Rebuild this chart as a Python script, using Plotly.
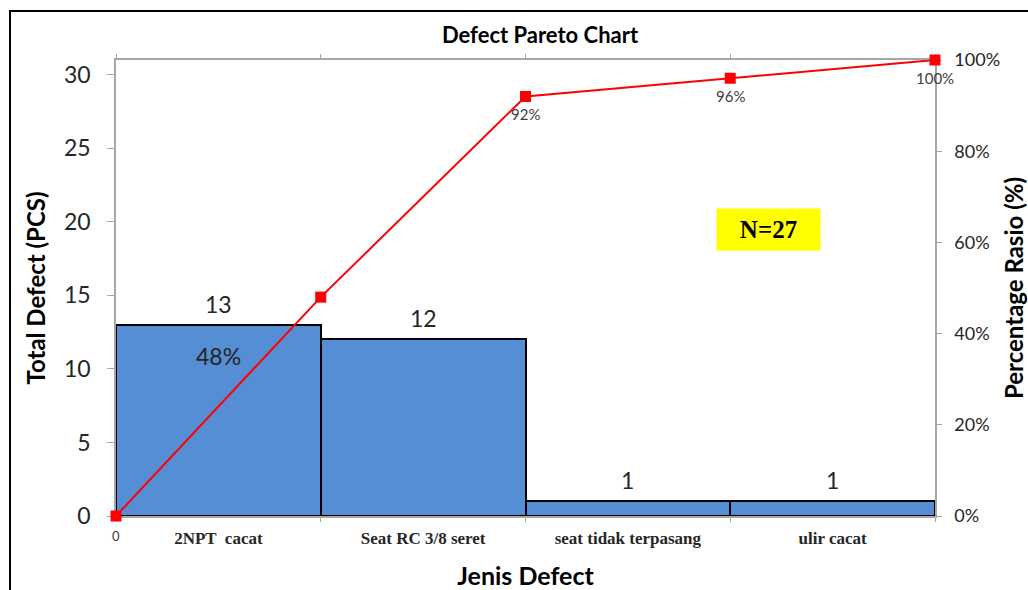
import plotly.graph_objects as go

categories = ["2NPT  cacat", "Seat RC 3/8 seret", "seat tidak terpasang", "ulir cacat"]
defects = [13, 12, 1, 1]
cum_pct = [0.0, 0.48, 0.92, 0.96, 1.00]
cum_labels = ["0", "", "92%", "96%", "100%"]
left_ticks = [0, 5, 10, 15, 20, 25, 30]
right_ticks = [0, 0.2, 0.4, 0.6, 0.8, 1.0]

n = len(categories)
bar_x = [i + 0.5 for i in range(n)]
line_x = list(range(n + 1))

SANS = "Lato, 'Open Sans', sans-serif"
SERIF = "'Liberation Serif', 'Times New Roman', serif"
GRAY = "#a6a6a6"

W, H = 1028, 590
L, T = 116, 60
PW, PH = 819, 456

fig = go.Figure()
fig.add_trace(go.Bar(
    x=bar_x, y=defects, width=1.0,
    marker=dict(color="#558ed5", line=dict(color="black", width=2)),
    xaxis="x", yaxis="y", showlegend=False,
))
fig.add_trace(go.Scatter(
    x=line_x, y=cum_pct, mode="lines+markers",
    line=dict(color="#ff0000", width=2),
    marker=dict(symbol="square", size=11, color="#ff0000"),
    xaxis="x2", yaxis="y2", showlegend=False, cliponaxis=False,
))

annotations = []
for xv, yv, lab in zip(line_x, cum_pct, cum_labels):
    if lab:
        annotations.append(dict(x=xv, y=yv, xref="x2", yref="y2", text=lab,
                                showarrow=False, yshift=-18 if lab != "0" else -20,
                                font=dict(family=SANS, size=15 if lab != "0" else 13,
                                          color="#404040")))
for xv, v in zip(bar_x, defects):
    annotations.append(dict(x=xv, y=v, xref="x", yref="y", text=str(v),
                            showarrow=False, yshift=21,
                            font=dict(family=SANS, size=23, color="#262626")))
annotations.append(dict(x=bar_x[0], y=defects[0], xref="x", yref="y",
                        text=f"{round(cum_pct[1]*100)}%", showarrow=False, yshift=-31,
                        font=dict(family=SANS, size=23, color="#262626")))
annotations.append(dict(x=(768 - L) / PW, y=(T + PH - 229) / PH, xref="paper", yref="paper",
                        xanchor="center", yanchor="middle",
                        text="<b>N=27</b>",
                        showarrow=False, bgcolor="#ffff00", width=101, height=39,
                        font=dict(family=SERIF, size=25, color="black")))

fig.update_layout(
    width=W, height=H,
    margin=dict(l=L, r=W - L - PW, t=T, b=H - T - PH, autoexpand=False),
    paper_bgcolor="white", plot_bgcolor="white",
    bargap=0,
    title=dict(text="<b>Defect Pareto Chart</b>", x=540 / W, xanchor="center",
               y=1 - 35 / H, yanchor="middle", automargin=False,
               font=dict(family=SANS, size=22, color="black")),
    xaxis=dict(range=[0, n], tickvals=bar_x, ticktext=categories,
               ticks="outside", ticklen=6, tickcolor="rgba(0,0,0,0)",
               tickfont=dict(family=SERIF, size=17, color="#262626", weight="bold"),
               showline=True, linecolor=GRAY, linewidth=1.5, mirror=True,
               showgrid=False, zeroline=False, automargin=False, layer="below traces",
               title=dict(text="<b>Jenis Defect</b>", standoff=25,
                          font=dict(family=SANS, size=25, color="black"))),
    xaxis2=dict(range=[0, n], overlaying="x", side="bottom", tickvals=line_x,
                ticks="outside", ticklen=5, tickcolor=GRAY, mirror="ticks",
                showticklabels=False, showgrid=False, zeroline=False, showline=False,
                automargin=False, layer="below traces"),
    yaxis=dict(range=[0, 31], tickvals=left_ticks, ticks="outside", ticklen=7,
               tickcolor=GRAY, showline=True, linecolor=GRAY, linewidth=1.5,
               tickfont=dict(family=SANS, size=23, color="#262626"),
               ticklabelstandoff=12,
               showgrid=False, zeroline=False, automargin=False, layer="below traces",
               title=dict(text="<b>Total Defect (PCS)</b>", standoff=12,
                          font=dict(family=SANS, size=24, color="black"))),
    yaxis2=dict(range=[0, 1], overlaying="y", side="right", tickvals=right_ticks,
                tickformat=".0%", ticks="outside", ticklen=5, tickcolor=GRAY,
                showline=True, linecolor=GRAY, linewidth=1.5,
                tickfont=dict(family=SANS, size=18, color="#262626"),
                ticklabelstandoff=9,
                showgrid=False, zeroline=False, automargin=False, layer="below traces",
                title=dict(text="<b>Percentage Rasio (%)</b>", standoff=11,
                           font=dict(family=SANS, size=24, color="black"))),
    annotations=annotations,
    shapes=[dict(type="rect", xref="paper", yref="paper",
                 x0=(10 - L) / PW, x1=1.3, y0=-0.4, y1=1 + (T - 11) / PH,
                 line=dict(color="black", width=2), layer="below")],
)

fig.write_html("out.html", config={"displayModeBar": False},
               post_script="document.body.style.margin='0';document.body.style.overflow='hidden';")
